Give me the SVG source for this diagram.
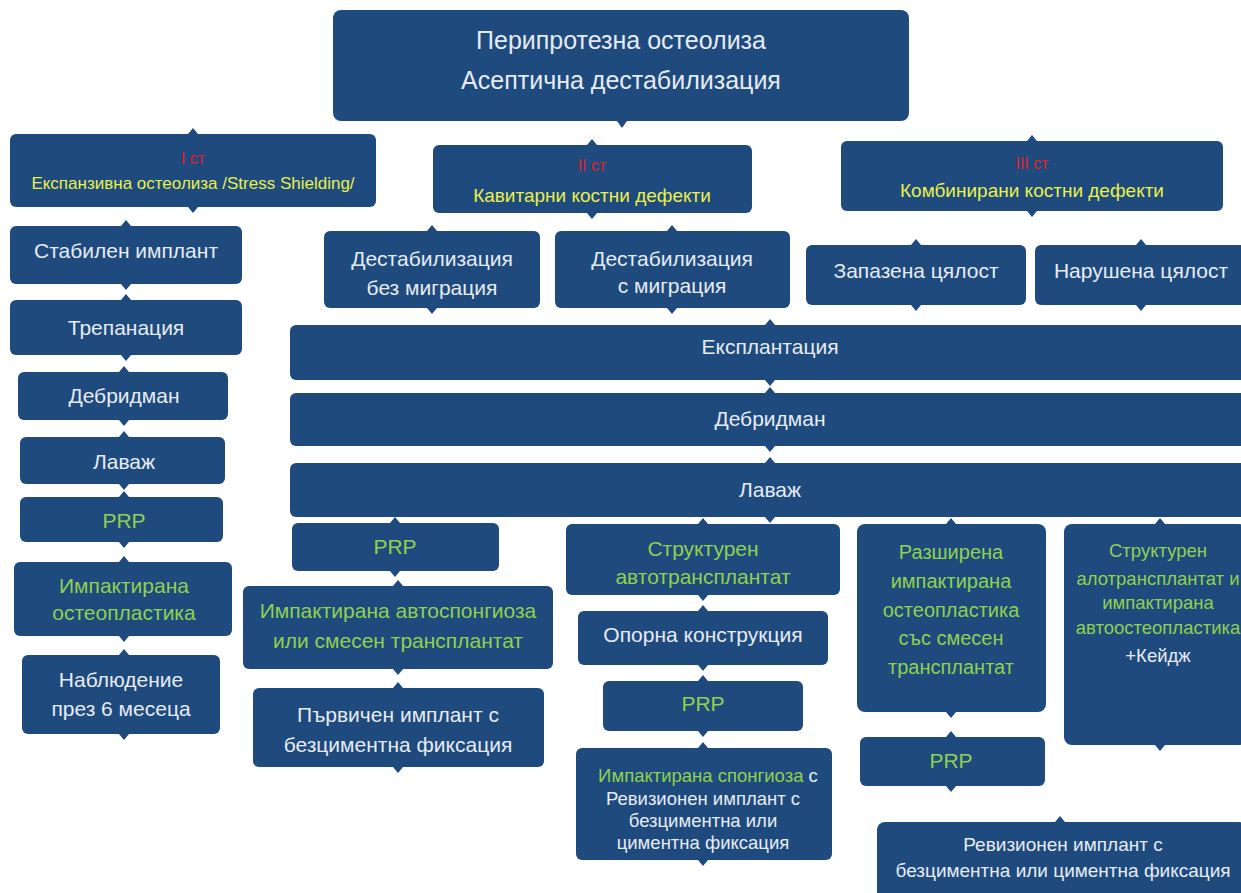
<svg xmlns="http://www.w3.org/2000/svg" width="1241" height="893" viewBox="0 0 1241 893">
<style>
.b{fill:#1f4a7e}
.t{font-family:"Liberation Sans",Arial,sans-serif;font-size:21px;fill:#e6ecf3;text-anchor:middle}
.s{font-size:18.5px}
.g{fill:#8fd14f}
.y{fill:#e8f04a}
.r{fill:#e0202a;font-size:16px}
.tab{fill:#1f4a7e}
</style>
<rect width="1241" height="893" fill="#ffffff"/>
<g id="connectors">
<path class="tab" d="M617 121 L622 128 L627 121 Z"/>
<path class="tab" d="M188 134 L193 128 L198 134 Z M188 207 L193 213 L198 207 Z"/>
<path class="tab" d="M587 145 L592 139 L597 145 Z M587 213 L592 219 L597 213 Z"/>
<path class="tab" d="M1027 141 L1032 135 L1037 141 Z M1027 211 L1032 217 L1037 211 Z"/>
<path class="tab" d="M121 226 L126 220 L131 226 Z M121 284 L126 290 L131 284 Z"/>
<path class="tab" d="M121 300 L126 294 L131 300 Z M121 355 L126 361 L131 355 Z"/>
<path class="tab" d="M119 372 L124 366 L129 372 Z M119 420 L124 426 L129 420 Z"/>
<path class="tab" d="M119 437 L124 431 L129 437 Z M119 484 L124 490 L129 484 Z"/>
<path class="tab" d="M119 497 L124 491 L129 497 Z M119 542 L124 548 L129 542 Z"/>
<path class="tab" d="M119 562 L124 556 L129 562 Z M119 636 L124 642 L129 636 Z"/>
<path class="tab" d="M119 655 L124 649 L129 655 Z M119 734 L124 740 L129 734 Z"/>
<path class="tab" d="M427 231 L432 225 L437 231 Z M427 308 L432 314 L437 308 Z"/>
<path class="tab" d="M667 231 L672 225 L677 231 Z M667 308 L672 314 L677 308 Z"/>
<path class="tab" d="M911 245 L916 239 L921 245 Z M911 305 L916 311 L921 305 Z"/>
<path class="tab" d="M1136 245 L1141 239 L1146 245 Z M1136 305 L1141 311 L1146 305 Z"/>
<path class="tab" d="M765 325 L770 319 L775 325 Z M765 380 L770 386 L775 380 Z"/>
<path class="tab" d="M765 393 L770 387 L775 393 Z M765 446 L770 452 L775 446 Z"/>
<path class="tab" d="M765 463 L770 457 L775 463 Z M765 517 L770 523 L775 517 Z"/>
<path class="tab" d="M390 523 L395 517 L400 523 Z M390 571 L395 577 L400 571 Z"/>
<path class="tab" d="M393 586 L398 580 L403 586 Z M393 669 L398 675 L403 669 Z"/>
<path class="tab" d="M393 688 L398 682 L403 688 Z M393 767 L398 773 L403 767 Z"/>
<path class="tab" d="M698 524 L703 518 L708 524 Z M698 595 L703 601 L708 595 Z"/>
<path class="tab" d="M698 611 L703 605 L708 611 Z M698 665 L703 671 L708 665 Z"/>
<path class="tab" d="M698 681 L703 675 L708 681 Z M698 731 L703 737 L708 731 Z"/>
<path class="tab" d="M698 748 L703 742 L708 748 Z M698 860 L703 866 L708 860 Z"/>
<path class="tab" d="M946 524 L951 518 L956 524 Z M946 712 L951 718 L956 712 Z"/>
<path class="tab" d="M946 737 L951 731 L956 737 Z M946 786 L951 792 L956 786 Z"/>
<path class="tab" d="M1155 524 L1160 518 L1165 524 Z M1155 745 L1160 751 L1165 745 Z"/>
<path class="tab" d="M1055 822 L1060 816 L1065 822 Z"/>
</g>
<g id="n-top"><rect class="b" x="333" y="10" width="576" height="111" rx="8"/>
<text class="t" x="621" y="49" style="font-size:25px">Перипротезна остеолиза</text>
<text class="t" x="621" y="89" style="font-size:25px">Асептична дестабилизация</text></g>
<g id="n-st1"><rect class="b" x="10" y="134" width="366" height="73" rx="6"/>
<text class="t r" x="193" y="164">I ст</text>
<text class="t y" x="193" y="189" style="font-size:17px">Експанзивна остеолиза /Stress Shielding/</text></g>
<g id="n-st2"><rect class="b" x="433" y="145" width="319" height="68" rx="6"/>
<text class="t r" x="592" y="171">II ст</text>
<text class="t y" x="592" y="202" style="font-size:19px">Кавитарни костни дефекти</text></g>
<g id="n-st3"><rect class="b" x="841" y="141" width="382" height="70" rx="6"/>
<text class="t r" x="1032" y="169">III ст</text>
<text class="t y" x="1032" y="197" style="font-size:19px">Комбинирани костни дефекти</text></g>
<g id="n-stab"><rect class="b" x="10" y="226" width="232" height="58" rx="6"/>
<text class="t" x="126" y="258">Стабилен имплант</text></g>
<g id="n-trep"><rect class="b" x="10" y="300" width="232" height="55" rx="6"/>
<text class="t" x="126" y="335">Трепанация</text></g>
<g id="n-deb1"><rect class="b" x="18" y="372" width="210" height="48" rx="6"/>
<text class="t" x="124" y="403">Дебридман</text></g>
<g id="n-lav1"><rect class="b" x="20" y="437" width="205" height="47" rx="6"/>
<text class="t" x="124" y="469">Лаваж</text></g>
<g id="n-prp1"><rect class="b" x="20" y="497" width="203" height="45" rx="6"/>
<text class="t g" x="124" y="528">PRP</text></g>
<g id="n-imp1"><rect class="b" x="14" y="562" width="218" height="74" rx="6"/>
<text class="t g" x="124" y="593">Импактирана</text>
<text class="t g" x="124" y="620">остеопластика</text></g>
<g id="n-nabl"><rect class="b" x="22" y="655" width="198" height="79" rx="6"/>
<text class="t" x="121" y="687">Наблюдение</text>
<text class="t" x="121" y="716">през 6 месеца</text></g>
<g id="n-dbez"><rect class="b" x="324" y="231" width="216" height="77" rx="6"/>
<text class="t" x="432" y="266">Дестабилизация</text>
<text class="t" x="432" y="295">без миграция</text></g>
<g id="n-dsm"><rect class="b" x="555" y="231" width="235" height="77" rx="6"/>
<text class="t" x="672" y="266">Дестабилизация</text>
<text class="t" x="672" y="293">с миграция</text></g>
<g id="n-zap"><rect class="b" x="806" y="245" width="220" height="60" rx="6"/>
<text class="t" x="916" y="278">Запазена цялост</text></g>
<g id="n-nar"><rect class="b" x="1035" y="245" width="212" height="60" rx="6"/>
<text class="t" x="1141" y="278">Нарушена цялост</text></g>
<g id="n-expl"><rect class="b" x="290" y="325" width="957" height="55" rx="6"/>
<text class="t" x="770" y="354">Експлантация</text></g>
<g id="n-deb2"><rect class="b" x="290" y="393" width="957" height="53" rx="6"/>
<text class="t" x="770" y="426">Дебридман</text></g>
<g id="n-lav2"><rect class="b" x="290" y="463" width="957" height="54" rx="6"/>
<text class="t" x="770" y="497">Лаваж</text></g>
<g id="n-prp2"><rect class="b" x="292" y="523" width="207" height="48" rx="6"/>
<text class="t g" x="395" y="554">PRP</text></g>
<g id="n-auto"><rect class="b" x="243" y="586" width="310" height="83" rx="6"/>
<text class="t g" x="398" y="618">Импактирана автоспонгиоза</text>
<text class="t g" x="398" y="648">или смесен трансплантат</text></g>
<g id="n-perv"><rect class="b" x="253" y="688" width="291" height="79" rx="6"/>
<text class="t" x="398" y="722">Първичен имплант с</text>
<text class="t" x="398" y="752">безциментна фиксация</text></g>
<g id="n-struk"><rect class="b" x="566" y="524" width="274" height="71" rx="6"/>
<text class="t g" x="703" y="556">Структурен</text>
<text class="t g" x="703" y="584">автотрансплантат</text></g>
<g id="n-opor"><rect class="b" x="578" y="611" width="250" height="54" rx="6"/>
<text class="t" x="703" y="642">Опорна конструкция</text></g>
<g id="n-prp3"><rect class="b" x="603" y="681" width="200" height="50" rx="6"/>
<text class="t g" x="703" y="711">PRP</text></g>
<g id="n-spong"><rect class="b" x="576" y="748" width="256" height="112" rx="6"/>
<text class="t s" x="708" y="782"><tspan class="g">Импактирана спонгиоза</tspan> с</text>
<text class="t s" x="703" y="805">Ревизионен имплант с</text>
<text class="t s" x="703" y="827">безциментна или</text>
<text class="t s" x="703" y="849">циментна фиксация</text></g>
<g id="n-razsh"><rect class="b" x="857" y="524" width="189" height="188" rx="8"/>
<text class="t g" x="951" y="559" style="font-size:20px">Разширена</text>
<text class="t g" x="951" y="588" style="font-size:20px">импактирана</text>
<text class="t g" x="951" y="617" style="font-size:20px">остеопластика</text>
<text class="t g" x="951" y="645" style="font-size:20px">със смесен</text>
<text class="t g" x="951" y="674" style="font-size:20px">трансплантат</text></g>
<g id="n-prp4"><rect class="b" x="860" y="737" width="185" height="49" rx="6"/>
<text class="t g" x="951" y="768">PRP</text></g>
<g id="n-alo"><rect class="b" x="1064" y="524" width="183" height="221" rx="8"/>
<text class="t g s" x="1158" y="557">Структурен</text>
<text class="t g s" x="1158" y="585">алотрансплантат и</text>
<text class="t g s" x="1158" y="609">импактирана</text>
<text class="t g s" x="1158" y="634">автоостеопластика</text>
<text class="t s" x="1158" y="662">+Кейдж</text></g>
<g id="n-reviz"><rect class="b" x="877" y="822" width="370" height="80" rx="8"/>
<text class="t" x="1063" y="851" style="font-size:19px">Ревизионен имплант с</text>
<text class="t" x="1063" y="877" style="font-size:19px">безциментна или циментна фиксация</text></g>
</svg>
